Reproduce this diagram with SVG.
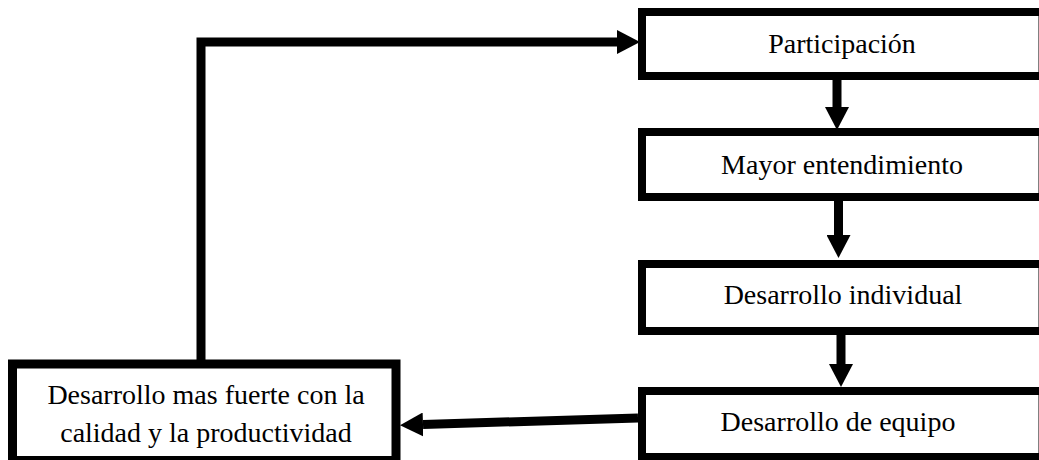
<svg xmlns="http://www.w3.org/2000/svg" width="1039" height="460" viewBox="0 0 1039 460">
  <style>
    .box { fill: #ffffff; stroke: #000000; stroke-width: 8; }
    .label { font-family: "Liberation Serif", "Times New Roman", serif; font-size: 28px; fill: #000000; text-anchor: middle; }
    .link { fill: none; stroke: #000000; stroke-width: 9; }
  </style>
  <defs>
    <marker id="head" markerUnits="userSpaceOnUse" markerWidth="23" markerHeight="24" refX="0" refY="12" orient="auto">
      <path d="M0,0 L23,12 L0,24 Z" fill="#000000"/>
    </marker>
  </defs>

  <rect width="1039" height="460" fill="#ffffff"/>

  <g id="connectors">
    <!-- feedback loop: bottom-left box back up to the first step -->
    <path class="link" d="M201,364 V42 H617" stroke-linejoin="miter" marker-end="url(#head)"/>
    <!-- vertical chain -->
    <path class="link" d="M837,80 V107" marker-end="url(#head)"/>
    <path class="link" d="M838.5,201 V235" marker-end="url(#head)"/>
    <path class="link" d="M841,335 V364" marker-end="url(#head)"/>
    <!-- team development to quality/productivity -->
    <path class="link" d="M638,418 L423,424.5" marker-end="url(#head)"/>
  </g>

  <g id="participacion">
    <rect class="box" x="642" y="12" width="400.5" height="64"/>
    <text class="label" x="842" y="53">Participación</text>
  </g>

  <g id="mayor-entendimiento">
    <rect class="box" x="642" y="132" width="400.5" height="65"/>
    <text class="label" x="842" y="174">Mayor entendimiento</text>
  </g>

  <g id="desarrollo-individual">
    <rect class="box" x="642" y="264" width="400.5" height="67"/>
    <text class="label" x="843" y="304">Desarrollo individual</text>
  </g>

  <g id="desarrollo-equipo">
    <rect class="box" x="642" y="391" width="400.5" height="66"/>
    <text class="label" x="838" y="431">Desarrollo de equipo</text>
  </g>

  <g id="desarrollo-calidad">
    <rect class="box" x="12.5" y="364" width="383.5" height="96.5" style="stroke-width:9"/>
    <text class="label" x="206" y="404">Desarrollo mas fuerte con la</text>
    <text class="label" x="206" y="442">calidad y la productividad</text>
  </g>
</svg>
